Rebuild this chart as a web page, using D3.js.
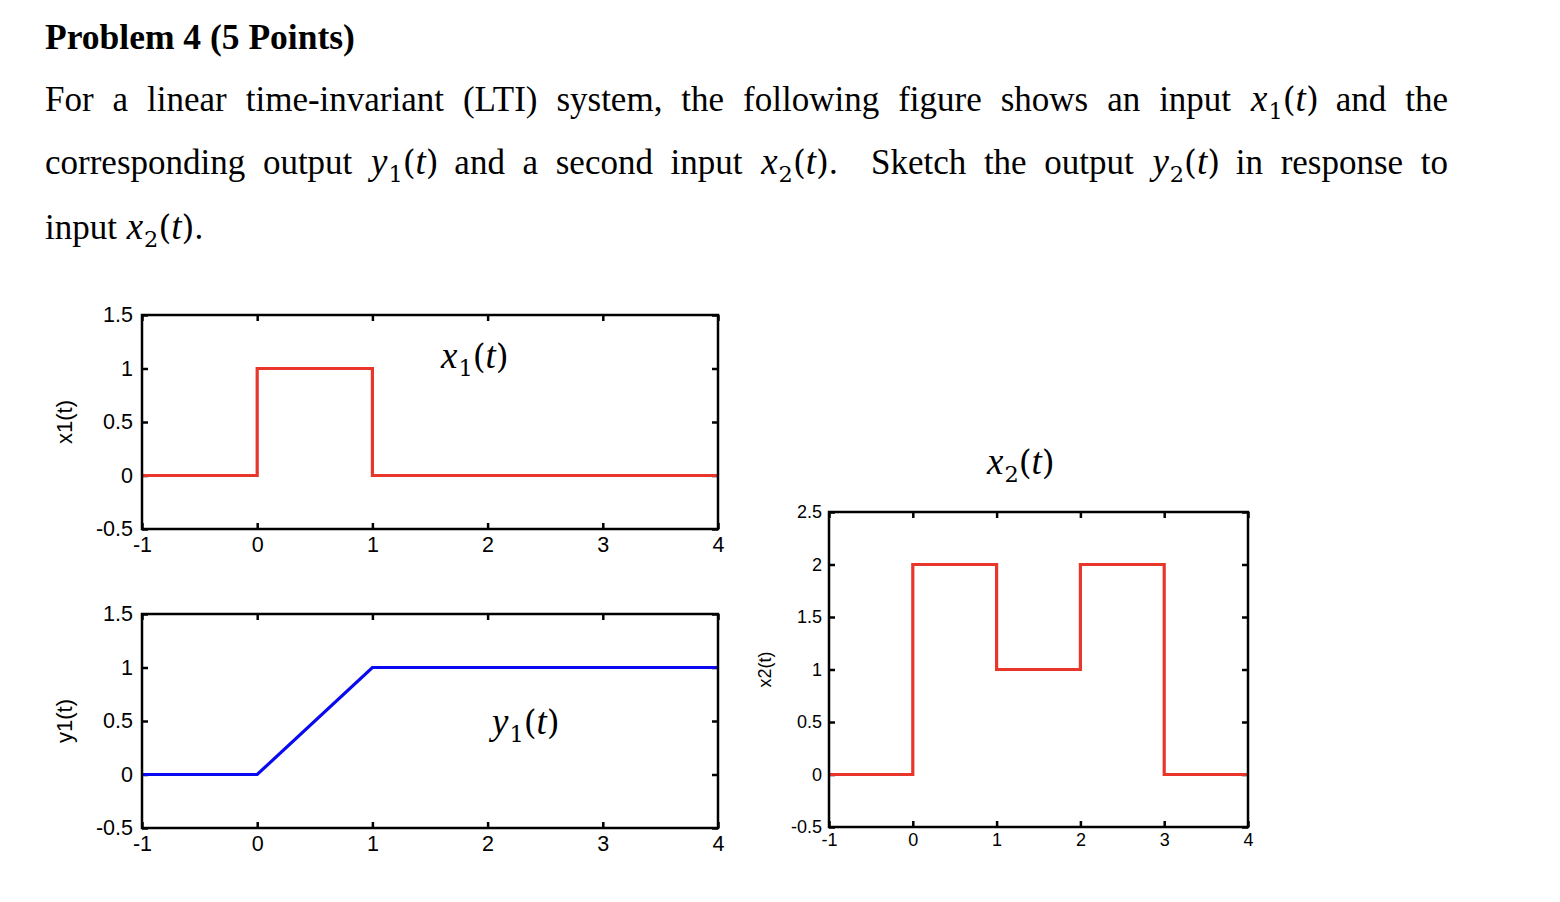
<!DOCTYPE html>
<html>
<head>
<meta charset="utf-8">
<script src="https://cdn.jsdelivr.net/npm/d3@7"></script>
<style>
  html, body { margin: 0; padding: 0; background: #fff; }
  svg { display: block; }
</style>
</head>
<body>
<svg id="chart" width="1560" height="902"></svg>
<script>
// ---------------- data ----------------
const x1Times  = [-1, 0, 0, 1, 1, 4];
const x1Values = [ 0, 0, 1, 1, 0, 0];

const y1Times  = [-1, 0, 1, 4];
const y1Values = [ 0, 0, 1, 1];

const x2Times  = [-1, 0, 0, 1, 1, 2, 2, 3, 3, 4];
const x2Values = [ 0, 0, 2, 2, 1, 1, 2, 2, 0, 0];

const timeTicks   = [-1, 0, 1, 2, 3, 4];
const yTicksSmall = [-0.5, 0, 0.5, 1, 1.5];
const yTicksLarge = [-0.5, 0, 0.5, 1, 1.5, 2, 2.5];

// ---------------- setup ----------------
const svg = d3.select("#chart");
const RED = "#e8362b";
const BLUE = "#0a0af0";
const SANS = "'Liberation Sans', Arial, Helvetica, sans-serif";
const SERIF = "'Liberation Serif', 'Times New Roman', serif";
const MATH = "'DejaVu Serif', serif";
const MATHI = "'Liberation Serif', serif";

// ---------------- text block ----------------
const BODY = 35, MS = 33;
function mathW(letter, sub, trail) {
  const s = [
    {t: letter, k: "mi"}, {t: sub, k: "sub"}, {t: "(", k: "mr"}, {t: "t", k: "mi"}, {t: ")", k: "mr"}
  ];
  if (trail) s.push({t: trail, k: "r"});
  return s;
}
function w(t) { return [{t: t, k: "r"}]; }

function renderWord(g, segs, x, y, ms) {
  ms = ms || MS;
  const txt = g.append("text").attr("x", x).attr("y", y).attr("fill", "#000");
  let shift = 0;
  segs.forEach(s => {
    const ts = txt.append("tspan").text(s.t);
    if (s.k === "r" || s.k === "b") {
      ts.attr("font-family", SERIF).attr("font-size", s.k === "b" ? BODY + 0.5 : BODY).attr("font-weight", s.k === "b" ? "bold" : "normal");
    } else if (s.k === "mi") {
      ts.attr("font-family", MATHI).attr("font-size", ms * 1.12).attr("font-style", "italic");
    } else if (s.k === "mr") {
      ts.attr("font-family", MATH).attr("font-size", ms).attr("font-weight", 300);
    } else if (s.k === "sub") {
      ts.attr("font-family", MATH).attr("font-size", ms * 0.68);
    }
    const target = s.k === "sub" ? ms * 0.25 : 0;
    if (target !== shift) { ts.attr("dy", target - shift); shift = target; }
    if (s.k === "mi" && s.t !== "t") ts.attr("dx", 1);
    if (s.k === "sub") ts.attr("dx", 1);
  });
  return txt;
}

function renderLine(words, x0, x1, y, justify, g) {
  const els = words.map(ws => renderWord(g, ws, 0, y));
  const widths = els.map(e => e.node().getComputedTextLength());
  const total = d3.sum(widths);
  const gap = justify ? (x1 - x0 - total) / (words.length - 1) : BODY * 0.25;
  let cx = x0;
  els.forEach((e, i) => { e.attr("x", cx); cx += widths[i] + gap; });
}

const textG = svg.append("g");
renderWord(textG, [{t: "Problem 4 (5 Points)", k: "b"}], 45, 49);

const line1 = ["For","a","linear","time-invariant","(LTI)","system,","the","following","figure","shows","an","input"].map(w)
  .concat([mathW("x","1"), w("and"), w("the")]);
const line2 = [w("corresponding"), w("output"), mathW("y","1"), w("and"), w("a"), w("second"), w("input"),
  mathW("x","2","."), w(""), w("Sketch"), w("the"), w("output"), mathW("y","2"), w("in"), w("response"), w("to")];
const line3 = [w("input"), mathW("x","2",".")];

renderLine(line1, 45, 1448, 111, true, textG);
renderLine(line2, 45, 1448, 174, true, textG);
renderLine(line3, 45, 1448, 239, false, textG);

// ---------------- panels ----------------
function panel(opts) {
  const {left, right, top, bottom, yDomain, yTicks, times, values, color, fs, tfs, pad, ytitle, ytitleX, label, labelX, labelY} = opts;
  const x = d3.scaleLinear().domain([-1, 4]).range([left, right]);
  const y = d3.scaleLinear().domain(yDomain).range([bottom, top]);
  const g = svg.append("g");
  const fmt = d => String(d);
  const TS = 6;

  const axB = g.append("g").attr("transform", `translate(0,${bottom})`)
    .call(d3.axisBottom(x).tickValues(timeTicks).tickFormat(fmt).tickSize(-TS).tickPadding(pad.x));
  const axT = g.append("g").attr("transform", `translate(0,${top})`)
    .call(d3.axisTop(x).tickValues(timeTicks).tickFormat("").tickSize(-TS));
  const axL = g.append("g").attr("transform", `translate(${left},0)`)
    .call(d3.axisLeft(y).tickValues(yTicks).tickFormat(fmt).tickSize(-TS).tickPadding(pad.y));
  const axR = g.append("g").attr("transform", `translate(${right},0)`)
    .call(d3.axisRight(y).tickValues(yTicks).tickFormat("").tickSize(-TS));
  [axB, axT, axL, axR].forEach(a => {
    a.select(".domain").remove();
    a.selectAll(".tick line").attr("stroke", "#000").attr("stroke-width", 2.5);
    a.selectAll(".tick text").attr("font-family", SANS).attr("font-size", fs).attr("fill", "#000");
  });

  const pts = times.map((t, i) => [t, values[i]]);
  g.append("path")
    .datum(pts)
    .attr("fill", "none")
    .attr("stroke", color)
    .attr("stroke-width", 3.2)
    .attr("stroke-linejoin", "miter")
    .attr("d", d3.line().x(d => x(d[0])).y(d => y(d[1])));

  g.append("rect")
    .attr("x", left).attr("y", top)
    .attr("width", right - left).attr("height", bottom - top)
    .attr("fill", "none").attr("stroke", "#000").attr("stroke-width", 2.5);

  g.append("text")
    .attr("transform", `translate(${ytitleX},${(top + bottom) / 2}) rotate(-90)`)
    .attr("text-anchor", "middle")
    .attr("font-family", SANS).attr("font-size", tfs)
    .text(ytitle);

  renderWord(g, label, labelX, labelY);
}

panel({left: 142, right: 718, top: 315, bottom: 529, yDomain: [-0.5, 1.5], yTicks: yTicksSmall,
  times: x1Times, values: x1Values, color: RED, fs: 21.5, tfs: 22, pad: {x: 8, y: 9},
  ytitle: "x1(t)", ytitleX: 72, label: mathW("x","1"), labelX: 440, labelY: 368});

panel({left: 142, right: 718, top: 614, bottom: 828, yDomain: [-0.5, 1.5], yTicks: yTicksSmall,
  times: y1Times, values: y1Values, color: BLUE, fs: 21.5, tfs: 22, pad: {x: 8, y: 9},
  ytitle: "y1(t)", ytitleX: 72, label: mathW("y","1"), labelX: 491, labelY: 734});

panel({left: 829, right: 1248, top: 512, bottom: 827, yDomain: [-0.5, 2.5], yTicks: yTicksLarge,
  times: x2Times, values: x2Values, color: RED, fs: 18, tfs: 18, pad: {x: 6, y: 7},
  ytitle: "x2(t)", ytitleX: 771, label: mathW("x","2"), labelX: 986, labelY: 474});
</script>
</body>
</html>
